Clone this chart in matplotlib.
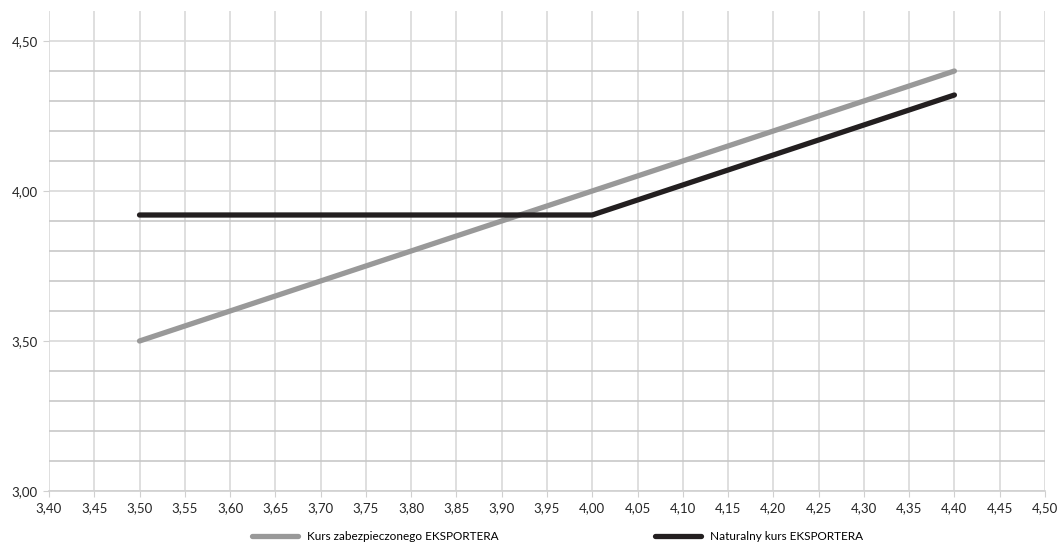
import matplotlib
matplotlib.use("Agg")
import matplotlib.pyplot as plt
import numpy as np

x_vals = [3.50, 4.00, 4.40]
hedged = [3.50, 4.00, 4.40]
natural = [3.92, 3.92, 4.32]
labels = ["Kurs zabezpieczonego EKSPORTERA", "Naturalny kurs EKSPORTERA"]

plt.rcParams['font.family'] = ['Lato', 'DejaVu Sans']

fig = plt.figure(figsize=(10.6, 5.44), dpi=100)
ax = fig.add_axes([0.0462, 0.0974, 0.9396, 0.8824])

ax.set_xlim(3.40, 4.50)
ax.set_ylim(3.00, 4.60)

xt = np.round(np.arange(3.40, 4.501, 0.05), 2)
ax.set_xticks(xt)
ax.set_xticklabels([f"{v:.2f}".replace(".", ",") for v in xt], fontsize=9.5, color="#262626")
yt = [3.00, 3.50, 4.00, 4.50]
ax.set_yticks(yt)
ax.set_yticklabels([f"{v:.2f}".replace(".", ",") for v in yt], fontsize=9.5, color="#262626")
ymin = [round(v, 1) for v in np.arange(3.1, 4.45, 0.1) if round(v, 1) not in (3.5, 4.0)]
ax.set_yticks(ymin, minor=True)
ax.tick_params(axis='y', which='minor', length=0)
ax.tick_params(axis='both', which='major', length=4, color="#d0d0d0", pad=4)

ax.grid(True, which='major', axis='both', color="#d9d9d9", linewidth=1.2)
ax.grid(True, which='minor', axis='y', color="#c8c8c8", linewidth=1.2)
ax.set_axisbelow(True)
for s in ["top", "right", "left"]:
    ax.spines[s].set_visible(False)
ax.spines["bottom"].set_color("#d0d0d0")
ax.spines["bottom"].set_linewidth(1.2)

ax.plot(x_vals, hedged, color="#999999", linewidth=3.8, solid_capstyle='round', label=labels[0])
ax.plot(x_vals, natural, color="#231f20", linewidth=3.8, solid_capstyle='round', label=labels[1])

fig.legend(loc='lower center', bbox_to_anchor=(0.526, -0.016), ncol=2, frameon=False,
           fontsize=8.5, columnspacing=13.3, handlelength=3.9, handletextpad=0.7)

fig.savefig("out.png", dpi=100)
